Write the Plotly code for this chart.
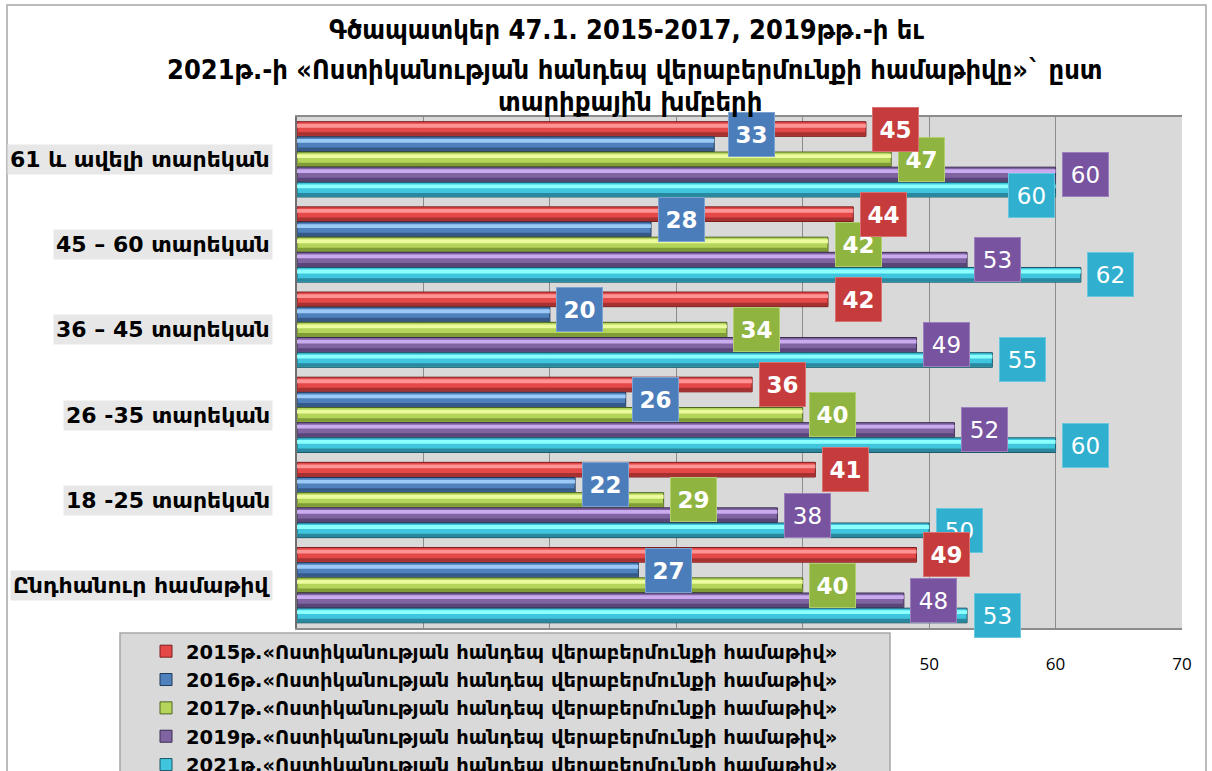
import plotly.graph_objects as go

# Age groups (top to bottom) and yearly index values
categories = [
    "61 և ավելի տարեկան",
    "45 – 60 տարեկան",
    "36 – 45 տարեկան",
    "26 -35 տարեկան",
    "18 -25 տարեկան",
    "Ընդհանուր համաթիվ",
]
series_names = [
    "2015թ.«Ոստիկանության հանդեպ վերաբերմունքի համաթիվ»",
    "2016թ.«Ոստիկանության հանդեպ վերաբերմունքի համաթիվ»",
    "2017թ.«Ոստիկանության հանդեպ վերաբերմունքի համաթիվ»",
    "2019թ.«Ոստիկանության հանդեպ վերաբերմունքի համաթիվ»",
    "2021թ.«Ոստիկանության հանդեպ վերաբերմունքի համաթիվ»",
]
values_2015 = [45, 44, 42, 36, 41, 49]
values_2016 = [33, 28, 20, 26, 22, 27]
values_2017 = [47, 42, 34, 40, 29, 40]
values_2019 = [60, 53, 49, 52, 38, 48]
values_2021 = [60, 62, 55, 60, 50, 53]
x_ticks = [0, 10, 20, 30, 40, 50, 60, 70]

title_lines = [
    "Գծապատկեր 47.1. 2015-2017, 2019թթ.-ի եւ",
    "2021թ.-ի «Ոստիկանության հանդեպ վերաբերմունքի համաթիվը»` ըստ",
    "տարիքային խմբերի",
]

all_values = [values_2015, values_2016, values_2017, values_2019, values_2021]

# Styling: body / highlight / shade / outline / label box colours
body = ["#e44848", "#4f81bd", "#b5d55a", "#8064a2", "#3fc6de"]
hilite = ["#ff9494", "#9ccaf6", "#ecfb9e", "#cbabf0", "#8cffff"]
shade = ["#a53131", "#355a8a", "#7f9c36", "#5a4578", "#2a889e"]
outline = ["#7a1f1f", "#20395a", "#4f6620", "#3b2c52", "#1a5666"]
label_bg = ["#c63b3b", "#4a7dba", "#8fb540", "#7853a0", "#30afcf"]
label_border = ["#d97070", "#7ba2d0", "#b2cf70", "#9c80bd", "#68c6df"]
label_bold = [True, True, True, False, False]

# Small pixel nudges for crowded labels: (category index, series index) -> (dx, dy)
label_nudge = {(0, 1): (7, 10), (0, 4): (-54, -6), (1, 1): (0, 10), (2, 1): (0, 5)}

FONT = "DejaVu Sans, Noto Sans, sans-serif"
TITLE_FONT = "DejaVu Sans Condensed, DejaVu Sans, sans-serif"

L, R, T, B = 297, 30, 117, 143
W, H = 1212, 771
PW, PH = W - L - R, H - T - B

def px_x(px):
    return (px - L) / PW

def px_y(py):
    return (H - B - py) / PH

slot = 0.178
bar_w = 0.172
start = -0.445

fig = go.Figure()
ypos = list(range(len(categories)))
for i, vals in enumerate(all_values):
    off = start + i * slot
    fig.add_trace(go.Bar(
        x=vals, y=ypos, orientation="h", offset=off, width=bar_w,
        name=f"<b>{series_names[i]}</b>", legendgroup=series_names[i],
        marker=dict(color=body[i], line=dict(color=outline[i], width=1)),
    ))
    fig.add_trace(go.Bar(
        x=vals, y=ypos, orientation="h", offset=off + 0.025, width=0.045,
        marker=dict(color=hilite[i], line=dict(width=0)),
        showlegend=False, legendgroup=series_names[i], hoverinfo="skip",
    ))
    fig.add_trace(go.Bar(
        x=vals, y=ypos, orientation="h", offset=off + 0.125, width=0.04,
        marker=dict(color=shade[i], line=dict(width=0)),
        showlegend=False, legendgroup=series_names[i], hoverinfo="skip",
    ))

annotations = []
# Value labels; later series are added first so earlier series sit on top
for i in reversed(range(len(all_values))):
    vals = all_values[i]
    off = start + i * slot
    for c, v in enumerate(vals):
        dx, dy = label_nudge.get((c, i), (0, 0))
        txt = f"<b>{v}</b>" if label_bold[i] else str(v)
        annotations.append(dict(
            x=v, y=c + off + bar_w / 2, xref="x", yref="y",
            text=txt, showarrow=False, xanchor="center", yanchor="middle",
            xshift=30 + dx, yshift=dy,
            width=43, height=41, align="center", valign="middle",
            bgcolor=label_bg[i], bordercolor=label_border[i], borderwidth=1,
            borderpad=1,
            font=dict(family=FONT, size=23, color="white"),
        ))

# Category labels with light background
for c, name in enumerate(categories):
    annotations.append(dict(
        x=0, y=c, xref="paper", yref="y", text=f"<b>{name}</b>",
        showarrow=False, xanchor="right", yanchor="middle", xshift=-24,
        bgcolor="#e7e7e7", borderpad=2,
        font=dict(family=FONT, size=22, color="#000000"),
    ))

# Title lines
title_centers = [(626, 30), (634, 69), (630, 101)]
for line, (cx, cy) in zip(title_lines, title_centers):
    annotations.append(dict(
        x=px_x(cx), y=px_y(cy), xref="paper", yref="paper",
        text=f"<b>{line}</b>", showarrow=False, xanchor="center",
        yanchor="middle",
        font=dict(family=TITLE_FONT, size=27, color="#000000"),
    ))

shapes = [
    # outer chart frame
    dict(type="rect", xref="paper", yref="paper",
         x0=px_x(7), x1=px_x(1206), y0=px_y(800), y1=px_y(5),
         line=dict(color="#a6a6a6", width=1.5), fillcolor="rgba(0,0,0,0)",
         layer="below"),
    # legend box
    dict(type="rect", xref="paper", yref="paper",
         x0=px_x(120), x1=px_x(890), y0=px_y(800), y1=px_y(633),
         line=dict(color="#a6a6a6", width=1.5), fillcolor="#d9d9d9",
         layer="above"),
]

fig.update_layout(
    width=W, height=H,
    margin=dict(l=L, r=R, t=T, b=B, autoexpand=False),
    barmode="overlay",
    paper_bgcolor="white",
    plot_bgcolor="#d9d9d9",
    showlegend=True,
    legend=dict(
        x=px_x(146), y=px_y(632), xanchor="left", yanchor="top",
        bgcolor="rgba(0,0,0,0)", borderwidth=0,
        font=dict(family=FONT, size=19.5, color="#000000"),
        traceorder="grouped", tracegroupgap=0,
        itemclick=False, itemdoubleclick=False,
    ),
    xaxis=dict(
        range=[0, 70], tickvals=x_ticks, ticktext=[str(t) for t in x_ticks],
        showgrid=True, gridcolor="#8c8c8c", gridwidth=1,
        zeroline=False, showline=True, mirror=True,
        linecolor="#8c8c8c", linewidth=1.5,
        tickfont=dict(family="Open Sans, DejaVu Sans, sans-serif", size=17,
                      color="#000000"),
        ticks="outside", ticklen=20, tickcolor="rgba(0,0,0,0)",
        fixedrange=True,
    ),
    yaxis=dict(
        range=[len(categories) - 0.5, -0.5],
        showticklabels=False, showgrid=False, zeroline=False,
        showline=True, linecolor="#6f6f6f", linewidth=2, ticks="",
        fixedrange=True,
    ),
    annotations=annotations,
    shapes=shapes,
)

fig.write_html("out.html")
